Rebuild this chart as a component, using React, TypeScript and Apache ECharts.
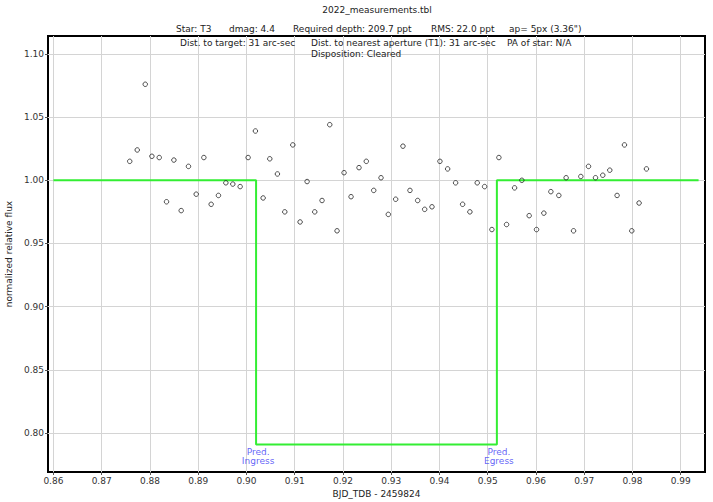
import React, { useEffect, useRef } from 'react';
import * as echarts from 'echarts';

const obsTime = [
  0.87582, 0.87737, 0.87903, 0.88041, 0.88193, 0.88344, 0.88497, 0.88648, 0.88799, 0.88959,
  0.89118, 0.89269, 0.89420, 0.89574, 0.89718, 0.89870, 0.90035, 0.90186, 0.90346, 0.90484,
  0.90642, 0.90795, 0.90961, 0.91112, 0.91257, 0.91416, 0.91567, 0.91727, 0.91878, 0.92023,
  0.92168, 0.92333, 0.92484, 0.92638, 0.92789, 0.92940, 0.93093, 0.93244, 0.93389, 0.93549,
  0.93694, 0.93845, 0.94010, 0.94170, 0.94335, 0.94480, 0.94631, 0.94783, 0.94936, 0.95087,
  0.95232, 0.95391, 0.95557, 0.95708, 0.95859, 0.96012, 0.96164, 0.96309, 0.96474, 0.96625,
  0.96779, 0.96930, 0.97089, 0.97234, 0.97385, 0.97530, 0.97681, 0.97834, 0.97986, 0.98137,
  0.98290,
];
const obsFlux = [
  1.015, 1.024, 1.076, 1.019, 1.018, 0.983, 1.016, 0.976, 1.011, 0.989,
  1.018, 0.981, 0.988, 0.998, 0.997, 0.995, 1.018, 1.039, 0.986, 1.017,
  1.005, 0.975, 1.028, 0.967, 0.999, 0.975, 0.984, 1.044, 0.960, 1.006,
  0.987, 1.010, 1.015, 0.992, 1.002, 0.973, 0.985, 1.027, 0.992, 0.984,
  0.977, 0.979, 1.015, 1.009, 0.998, 0.981, 0.975, 0.998, 0.995, 0.961,
  1.018, 0.965, 0.994, 1.000, 0.972, 0.961, 0.974, 0.991, 0.988, 1.002,
  0.960, 1.003, 1.011, 1.002, 1.004, 1.008, 0.988, 1.028, 0.960, 0.982,
  1.009,
];
const modelTime = [0.86, 0.902, 0.902, 0.9519, 0.9519, 0.9937];
const modelFlux = [1.0, 1.0, 0.7908, 0.7908, 1.0, 1.0];
const eventTimes = [0.902, 0.9519];
const eventLabels = ['Pred.\nIngress', 'Pred.\nEgress'];
const eventLabelFlux = 0.781;
const xTicks = [0.86, 0.87, 0.88, 0.89, 0.9, 0.91, 0.92, 0.93, 0.94, 0.95, 0.96, 0.97, 0.98, 0.99];
const yTicks = [0.8, 0.85, 0.9, 0.95, 1.0, 1.05, 1.1];

const titleText = '2022_measurements.tbl';
const infoLine1 = ['Star: T3', 'dmag: 4.4', 'Required depth: 209.7 ppt', 'RMS: 22.0 ppt', 'ap= 5px (3.36")'];
const infoLine1X = [176, 229, 293, 431, 509];
const infoLine2 = ['Dist. to target: 31 arc-sec', 'Dist. to nearest aperture (T1): 31 arc-sec', 'PA of star: N/A'];
const infoLine2X = [180, 311, 507];
const infoLine3 = ['Disposition: Cleared'];
const infoLine3X = [311];

const FONT = 'DejaVu Sans';

export default function App() {
  const ref = useRef<HTMLDivElement>(null);
  useEffect(() => {
    if (!ref.current) return;
    const chart = echarts.init(ref.current, null, { renderer: 'svg' });
    const txt = (text: string, x: number, y: number, align = 'left', size = 9) => ({
      type: 'text',
      x,
      y,
      z: 10,
      style: { text, fill: '#222', font: `${size}px "${FONT}"`, textAlign: align, textVerticalAlign: 'middle' },
    });
    const graphics: any[] = [txt(titleText, 377, 9.5, 'center')];
    infoLine1.forEach((t, i) => graphics.push(txt(t, infoLine1X[i], 29, 'left')));
    infoLine2.forEach((t, i) => graphics.push(txt(t, infoLine2X[i], 43, 'left')));
    infoLine3.forEach((t, i) => graphics.push(txt(t, infoLine3X[i], 54, 'left')));

    chart.setOption({
      animation: false,
      backgroundColor: '#fff',
      textStyle: { fontFamily: FONT },
      graphic: graphics,
      grid: {
        left: 48, right: 8, top: 36, bottom: 30,
        outerBoundsMode: 'none',
        containLabel: false,
        show: true, borderColor: '#000', borderWidth: 2, backgroundColor: 'transparent',
      },
      xAxis: {
        type: 'value',
        min: 0.85888,
        max: 0.99503,
        name: 'BJD_TDB - 2459824',
        nameLocation: 'middle',
        nameGap: 15,
        nameTextStyle: { color: '#222', fontSize: 9, fontFamily: FONT },
        axisLine: { show: false },
        axisTick: { show: true, length: 3, lineStyle: { color: '#555' }, customValues: xTicks },
        axisLabel: { color: '#333', fontSize: 9, fontFamily: FONT, margin: 4, customValues: xTicks, formatter: (v: number) => v.toFixed(2) },
        splitLine: { show: true, lineStyle: { color: '#d4d4d4', width: 1 } },
      },
      yAxis: {
        type: 'value',
        min: 0.7691,
        max: 1.1142,
        name: 'normalized relative flux',
        nameLocation: 'middle',
        nameRotate: 90,
        nameGap: 26,
        nameTextStyle: { color: '#222', fontSize: 9, fontFamily: FONT },
        axisLine: { show: false },
        axisTick: { show: true, length: 3, lineStyle: { color: '#555' }, customValues: yTicks },
        axisLabel: { color: '#333', fontSize: 9, fontFamily: FONT, margin: 4, customValues: yTicks, formatter: (v: number) => v.toFixed(2) },
        splitLine: { show: true, lineStyle: { color: '#d4d4d4', width: 1 } },
      },
      series: [
        {
          type: 'line',
          data: modelTime.map((t, i) => [t, modelFlux[i]]),
          showSymbol: false,
          symbol: 'none',
          lineStyle: { color: '#33ee33', width: 2 },
          z: 3,
        },
        {
          type: 'scatter',
          data: obsTime.map((t, i) => [t, obsFlux[i]]),
          symbol: 'circle',
          symbolSize: 4.5,
          itemStyle: { color: 'rgba(255,255,255,0)', borderColor: '#222', borderWidth: 1 },
          z: 4,
        },
        {
          type: 'scatter',
          data: eventTimes.map((t, i) => ({ value: [t, eventLabelFlux], name: eventLabels[i] })),
          symbolSize: 0,
          silent: true,
          label: {
            show: true,
            position: 'inside',
            offset: [2, 0],
            formatter: (p: any) => p.name,
            color: '#3a3af5',
            fontSize: 9,
            fontFamily: FONT,
            lineHeight: 9,
            align: 'center',
          },
          z: 5,
        },
      ],
    });
    return () => chart.dispose();
  }, []);
  return <div ref={ref} style={{ position: 'absolute', left: 0, top: 0, width: 713, height: 502 }} />;
}
